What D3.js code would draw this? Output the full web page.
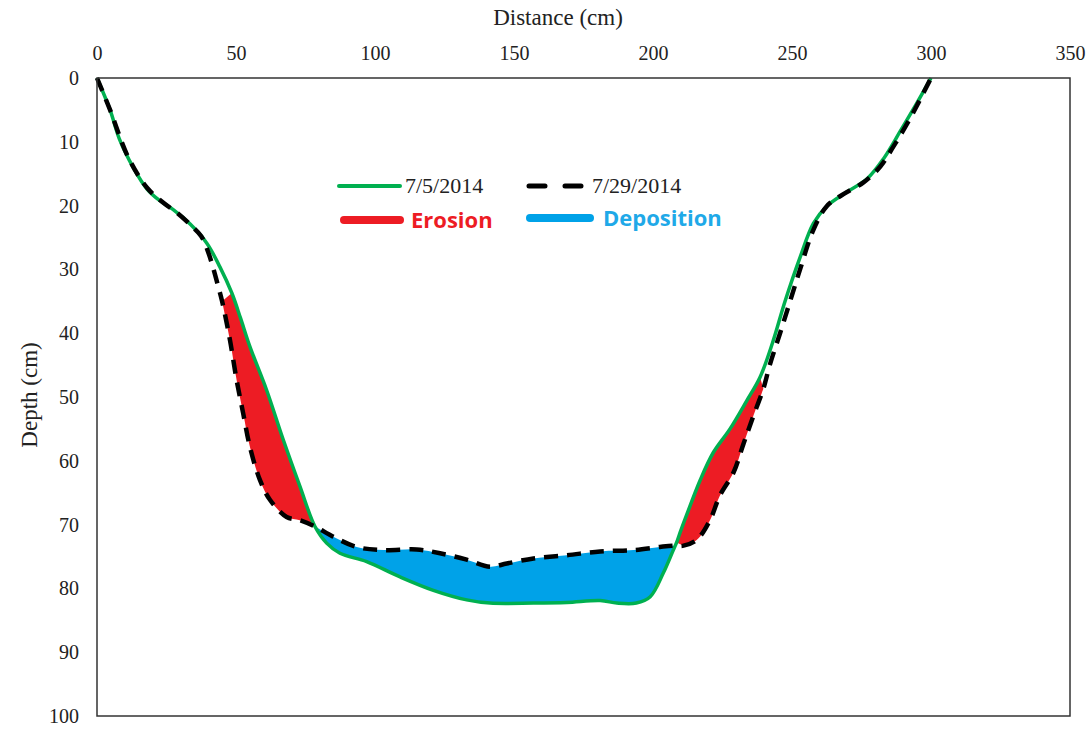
<!DOCTYPE html>
<html>
<head>
<meta charset="utf-8">
<script src="https://cdn.jsdelivr.net/npm/d3@7"></script>
<style>
  body { margin: 0; background: #fff; }
  text { font-family: "Liberation Serif", "Times New Roman", serif; fill: #222; }
</style>
</head>
<body>
<svg></svg>
<script>
// survey of 7/5/2014: [distance cm, depth cm]
var survey1 = [
    [0, 0], [4.7, 5], [8, 9.5], [13, 14], [18, 17.4], [22.5, 19.2], [27.3, 20.6],
    [33.5, 22.9], [39.5, 25.9], [44.2, 29.6], [48.5, 33.7], [51.6, 37.6], [55, 42.1],
    [61, 48.9], [67, 56.7], [73, 64], [78.4, 70.3], [82.6, 72.9], [87.4, 74.5],
    [97, 75.8], [109, 78.2], [121, 80.3], [133, 81.8], [141.4, 82.3], [157, 82.3],
    [169, 82.2], [181, 81.9], [187, 82.3], [194, 82.3], [199, 81.3], [203.7, 77.6],
    [207.3, 74], [208.5, 72.8], [209.7, 71.3], [212, 68.6], [217, 63], [221.7, 58.7],
    [227.7, 55], [233.7, 50.6], [238.5, 46.9], [243, 41.5], [247.5, 35], [253, 28],
    [257.7, 22.8], [262.5, 20.1], [268.5, 18.2], [277, 15.8], [283, 12.6], [289, 8.3],
    [294.8, 4], [300, 0]
];

// survey of 7/29/2014
var survey2 = [
    [0, 0], [4.7, 5], [11.2, 12.4], [18, 17.2], [24, 19.6], [29, 21.2], [34, 23.2],
    [37.5, 24.8], [40, 27.3], [41.8, 29.8], [43.5, 32.5], [45, 35], [47.8, 41], [50.2, 47.3],
    [52.6, 52.6], [55, 57.8], [58.6, 63], [62.2, 66.1], [68.2, 68.8], [73, 69.3],
    [78.4, 70.3], [85, 71.9], [93.4, 73.5], [103, 74], [115, 73.9], [123.4, 74.5],
    [133, 75.5], [141.4, 76.6], [147.4, 76.1], [157, 75.3], [169, 74.8], [181, 74.2],
    [193, 74], [202.5, 73.5], [207.3, 73.3], [211, 73.3], [215.7, 72.4], [220.5, 69.3],
    [224, 65.5], [229, 61.8], [232.5, 57.4], [236, 53.1], [239.7, 48.7], [242, 45],
    [245.7, 40], [249.3, 35], [252.9, 30], [257.7, 23.8], [262.5, 20.1], [268.5, 18.2],
    [275.6, 16.4], [281.7, 13.9], [286.4, 10.8], [292.4, 6.4], [300, 0]
];

// distance ranges where the bed changed
var erosionRanges = [[45, 78.4], [208.5, 240]];
var depositionRanges = [[78.4, 207.3]];

var xTicks = [0, 50, 100, 150, 200, 250, 300, 350];
var yTicks = [0, 10, 20, 30, 40, 50, 60, 70, 80, 90, 100];

var width = 1092;
var height = 729;
var margin = { top: 78, right: 22, bottom: 13, left: 97 };

var svg = d3.select('svg')
    .attr('width', width)
    .attr('height', height);

var x = d3.scaleLinear()
    .domain([0, 350])
    .range([margin.left, width - margin.right]);

var y = d3.scaleLinear()
    .domain([0, 100])
    .range([margin.top, height - margin.bottom]);

var line = d3.line()
    .x(d => x(d[0]))
    .y(d => y(d[1]))
    .curve(d3.curveCatmullRom);

function region(r) {
    var a = survey1.filter(d => d[0] >= r[0] && d[0] <= r[1]);
    var b = survey2.filter(d => d[0] >= r[0] && d[0] <= r[1]).reverse();
    return line(a) + 'L' + line(b).slice(1) + 'Z';
}

svg.selectAll('.erosion')
    .data(erosionRanges)
    .enter()
        .append('path')
        .attr('d', region)
        .attr('fill', '#ed1c24');

svg.selectAll('.deposition')
    .data(depositionRanges)
    .enter()
        .append('path')
        .attr('d', region)
        .attr('fill', '#00a2e8');

svg.append('path')
    .attr('d', line(survey1))
    .attr('fill', 'none')
    .attr('stroke', '#00b050')
    .attr('stroke-width', 3.5);

svg.append('path')
    .attr('d', line(survey2))
    .attr('fill', 'none')
    .attr('stroke', '#000')
    .attr('stroke-width', 4.5)
    .attr('stroke-dasharray', '14,9');

// frame
svg.append('rect')
    .attr('x', x(0))
    .attr('y', y(0))
    .attr('width', x(350) - x(0))
    .attr('height', y(100) - y(0))
    .attr('fill', 'none')
    .attr('stroke', '#333')
    .attr('stroke-width', 1.5);

// axes, labels only
var xAxis = svg.append('g')
    .attr('transform', `translate(0, ${y(0) - 12})`)
    .call(d3.axisTop(x).tickValues(xTicks).tickSize(0).tickPadding(6));
xAxis.select('.domain').remove();
xAxis.selectAll('text')
    .style('font-family', '"Liberation Serif", serif')
    .style('font-size', '20px')
    .attr('fill', '#222');

var yAxis = svg.append('g')
    .attr('transform', `translate(${x(0) - 12}, 0)`)
    .call(d3.axisLeft(y).tickValues(yTicks).tickSize(0).tickPadding(6));
yAxis.select('.domain').remove();
yAxis.selectAll('text')
    .style('font-family', '"Liberation Serif", serif')
    .style('font-size', '20px')
    .attr('fill', '#222');

svg.append('text')
    .attr('x', 558)
    .attr('y', 25)
    .attr('text-anchor', 'middle')
    .style('font-size', '23px')
    .text('Distance (cm)');

svg.append('text')
    .attr('transform', 'translate(37, 395) rotate(-90)')
    .attr('text-anchor', 'middle')
    .style('font-size', '23px')
    .text('Depth (cm)');

// legend
var legend = svg.append('g');

legend.append('line')
    .attr('x1', 339).attr('x2', 400).attr('y1', 186).attr('y2', 186)
    .attr('stroke', '#00b050').attr('stroke-width', 4).attr('stroke-linecap', 'round');
legend.append('text')
    .attr('x', 405).attr('y', 193)
    .style('font-size', '22px')
    .text('7/5/2014');

legend.append('line')
    .attr('x1', 529).attr('x2', 585).attr('y1', 186).attr('y2', 186)
    .attr('stroke', '#000').attr('stroke-width', 5)
    .attr('stroke-linecap', 'round').attr('stroke-dasharray', '16,20');
legend.append('text')
    .attr('x', 592).attr('y', 193)
    .style('font-size', '22px')
    .text('7/29/2014');

legend.append('line')
    .attr('x1', 344).attr('x2', 400).attr('y1', 220).attr('y2', 220)
    .attr('stroke', '#ed1c24').attr('stroke-width', 8).attr('stroke-linecap', 'round');
legend.append('text')
    .attr('x', 411).attr('y', 228)
    .style('font-family', '"Open Sans", "Liberation Sans", sans-serif')
    .style('font-weight', 'bold')
    .style('font-size', '22px')
    .style('fill', '#ed1c24')
    .text('Erosion');

legend.append('line')
    .attr('x1', 530).attr('x2', 590).attr('y1', 218).attr('y2', 218)
    .attr('stroke', '#00a2e8').attr('stroke-width', 8).attr('stroke-linecap', 'round');
legend.append('text')
    .attr('x', 603).attr('y', 226)
    .style('font-family', '"Open Sans", "Liberation Sans", sans-serif')
    .style('font-weight', 'bold')
    .style('font-size', '22px')
    .style('fill', '#1fa9e8')
    .text('Deposition');
</script>
</body>
</html>
